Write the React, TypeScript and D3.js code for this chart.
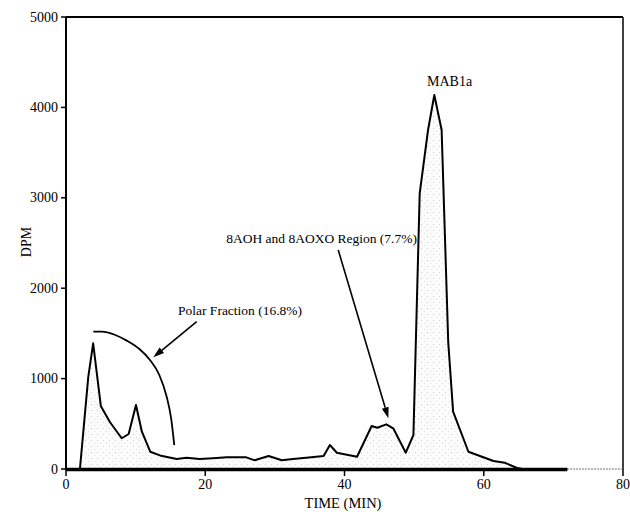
import React from "react";
import * as d3 from "d3";

const timeMin = [0, 2.0, 3.2, 3.9, 5.0, 6.3, 8.0, 9.0, 10.05, 10.9, 12.1, 13.5, 15.9, 17.3, 19.2, 21.1, 23.1, 25.9, 27.1, 29.1, 31.0, 32.6, 34.5, 37.0, 37.9, 38.9, 41.8, 43.9, 44.7, 46.0, 47.0, 48.8, 49.9, 50.8, 52.0, 52.9, 53.95, 54.9, 55.6, 57.8, 61.4, 63.0, 64.7, 65.5, 72];
const dpm = [0, 0, 1020, 1390, 697, 520, 340, 387, 708, 413, 191, 150, 110, 125, 110, 118, 129, 129, 96, 144, 96, 110, 125, 144, 265, 180, 136, 476, 457, 494, 450, 180, 376, 3050, 3750, 4137, 3750, 1400, 634, 191, 88, 70, 14, 0, 0];

const xTicks = [0, 20, 40, 60, 80];
const yTicks = [0, 1000, 2000, 3000, 4000, 5000];

// annotation geometry in data units
const arcT = [3.92, 5.13, 7.0, 8.72, 10.5, 12.06, 13.4, 14.46, 15.1, 15.55];
const arcV = [1519, 1519, 1485, 1420, 1330, 1206, 1040, 800, 560, 265];
const polarArrow = [[18.77, 1629], [12.54, 1236]];
const regionArrow = [[39.1, 2423], [46.3, 561]];

const W = 630, H = 512;
const x = d3.scaleLinear().domain([0, 80]).range([66, 623]);
const y = d3.scaleLinear().domain([0, 5000]).range([469, 17]);

function Arrow({ pts }: { pts: number[][] }) {
  const x1 = x(pts[0][0]), y1 = y(pts[0][1]);
  const x2 = x(pts[1][0]), y2 = y(pts[1][1]);
  const ang = Math.atan2(y2 - y1, x2 - x1);
  const L = 11, Wd = 3.5;
  const bx = x2 - L * Math.cos(ang), by = y2 - L * Math.sin(ang);
  const px = -Math.sin(ang) * Wd, py = Math.cos(ang) * Wd;
  return (
    <g>
      <line x1={x1} y1={y1} x2={bx} y2={by} stroke="#000" strokeWidth={1.6} />
      <path d={`M${x2},${y2}L${bx + px},${by + py}L${bx - px},${by - py}Z`} fill="#000" />
    </g>
  );
}

export default function App() {
  const pts: [number, number][] = timeMin.map((t, i) => [t, dpm[i]]);
  const line = d3.line<[number, number]>().x(d => x(d[0])).y(d => y(d[1]));
  const area = d3.area<[number, number]>().x(d => x(d[0])).y0(y(0)).y1(d => y(d[1]));
  const arcPts: [number, number][] = arcT.map((t, i) => [t, arcV[i]]);
  const arcLine = d3.line<[number, number]>().x(d => x(d[0])).y(d => y(d[1])).curve(d3.curveMonotoneX);
  const font = "'Liberation Serif', 'Times New Roman', serif";
  return (
    <svg width={W} height={H} style={{ position: "absolute", left: 0, top: 0, background: "#fff" }} fontFamily={font}>
      <defs>
        <pattern id="stip" width="6" height="6" patternUnits="userSpaceOnUse">
          <rect width="6" height="6" fill="#fcfcfc" />
          <rect x="1" y="2" width="1" height="1" fill="#cfcfcf" />
          <rect x="4" y="5" width="1" height="1" fill="#e0e0e0" />
        </pattern>
      </defs>
      <rect x={0} y={0} width={W} height={H} fill="#fff" />
      <path d={area(pts) || ""} fill="url(#stip)" />
      {/* frame */}
      <line x1={x(0)} y1={y(5000)} x2={x(80)} y2={y(5000)} stroke="#000" strokeWidth={2} />
      <line x1={x(80)} y1={y(5000)} x2={x(80)} y2={y(0)} stroke="#000" strokeWidth={1.5} />
      <line x1={x(0)} y1={y(0)} x2={x(80)} y2={y(0)} stroke="#777" strokeWidth={1} strokeDasharray="2,1" />
      <line x1={x(0)} y1={y(5000)} x2={x(0)} y2={y(0) + 1} stroke="#000" strokeWidth={2} />
      {/* data */}
      <path d={line(pts) || ""} fill="none" stroke="#000" strokeWidth={2} strokeLinejoin="round" />
      <line x1={x(0)} y1={y(0) + 0.5} x2={x(72)} y2={y(0) + 0.5} stroke="#000" strokeWidth={3.5} />
      {/* y ticks */}
      {yTicks.map(v => (
        <g key={v}>
          <line x1={x(0) - 5} x2={x(0)} y1={y(v)} y2={y(v)} stroke="#000" strokeWidth={1.5} />
          <text x={x(0) - 8} y={y(v)} dy="0.33em" textAnchor="end" fontSize={14}>{v}</text>
        </g>
      ))}
      {/* x ticks */}
      {xTicks.map(v => (
        <g key={v}>
          <line x1={x(v)} x2={x(v)} y1={y(0)} y2={y(0) + 7} stroke="#000" strokeWidth={1.5} />
          <text x={x(v)} y={489} textAnchor="middle" fontSize={14}>{v}</text>
        </g>
      ))}
      <text x={343} y={508} textAnchor="middle" fontSize={14.5}>TIME (MIN)</text>
      <text transform={`translate(31,242) rotate(-90)`} textAnchor="middle" fontSize={14}>DPM</text>
      {/* annotations */}
      <path d={arcLine(arcPts) || ""} fill="none" stroke="#000" strokeWidth={1.8} />
      <Arrow pts={polarArrow} />
      <Arrow pts={regionArrow} />
      <text x={178} y={315} fontSize={13.5}>Polar Fraction (16.8%)</text>
      <text x={417} y={243} textAnchor="end" fontSize={13.5}>8AOH and 8AOXO Region (7.7%)</text>
      <text x={427} y={86} fontSize={14}>MAB1a</text>
    </svg>
  );
}
